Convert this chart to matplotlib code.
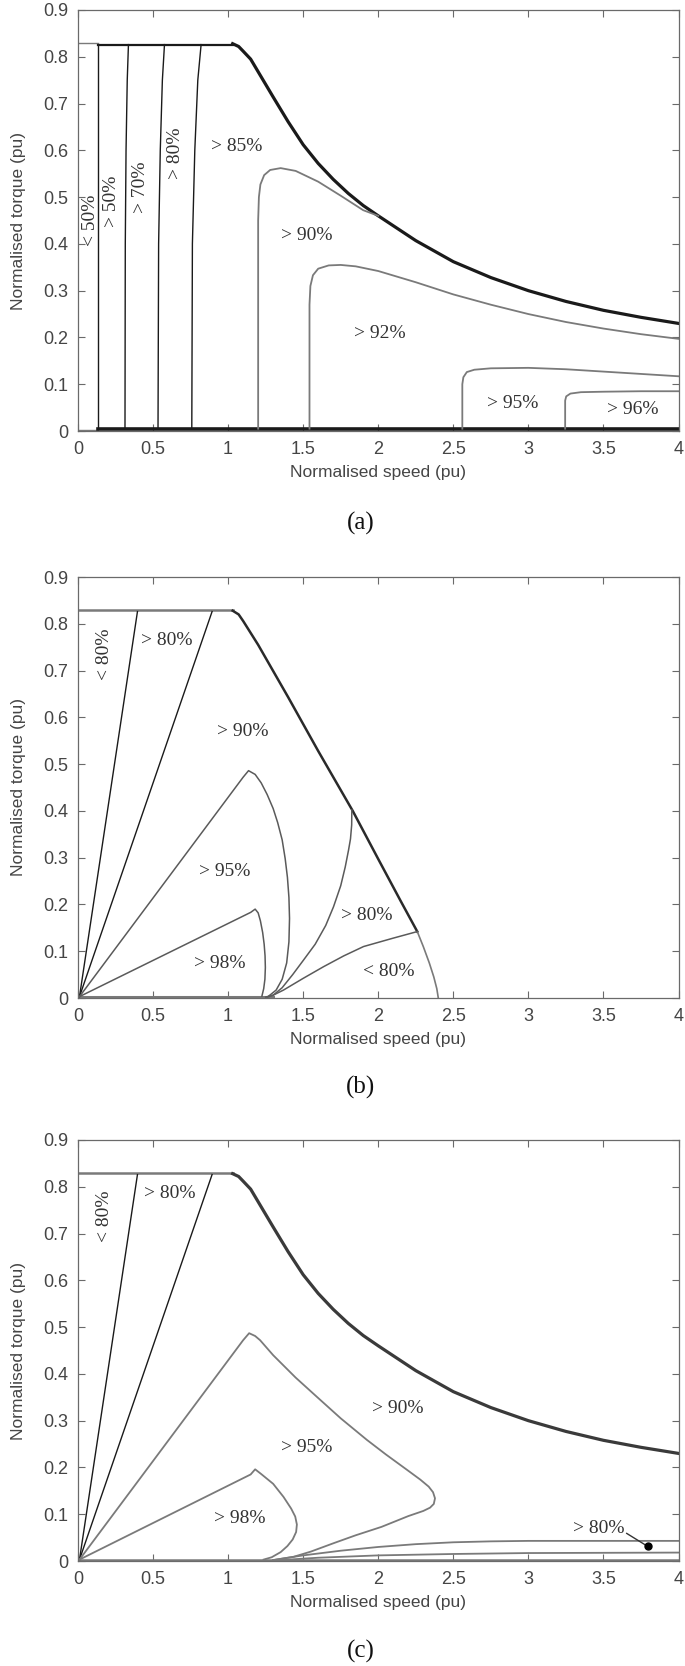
import matplotlib
matplotlib.use("Agg")
import matplotlib.pyplot as plt

# ---- shared torque-speed envelope (field weakening, constant power) ----
env_fw_x = [0, 1.03, 1.07, 1.1, 1.15, 1.2, 1.3, 1.4, 1.5, 1.6, 1.7, 1.8, 1.9, 2.0, 2.25, 2.5, 2.75, 3.0, 3.25, 3.5, 3.75, 4.0]
env_fw_y = [0.828, 0.828, 0.822, 0.812, 0.795, 0.768, 0.714, 0.661, 0.612, 0.572, 0.538, 0.508, 0.482, 0.46, 0.407, 0.362, 0.328, 0.3, 0.277, 0.258, 0.243, 0.23]

# ---- (a) ----
a_c50_x = [0.13, 0.13]
a_c50_y = [0.005, 0.826]
a_c70_x = [0.313, 0.315, 0.32, 0.328, 0.336]
a_c80_x = [0.533, 0.537, 0.548, 0.562, 0.576]
a_c85_x = [0.758, 0.762, 0.778, 0.798, 0.82]
a_cv_y = [0.005, 0.4, 0.6, 0.75, 0.826]
a_c90_x = [1.2, 1.2, 1.205, 1.215, 1.24, 1.28, 1.35, 1.45, 1.6, 1.75, 1.9, 2.0]
a_c90_y = [0.005, 0.45, 0.5, 0.527, 0.547, 0.558, 0.562, 0.556, 0.533, 0.503, 0.472, 0.46]
a_c92_x = [1.542, 1.542, 1.548, 1.565, 1.6, 1.67, 1.75, 1.85, 2.0, 2.25, 2.5, 2.75, 3.0, 3.25, 3.5, 3.75, 4.0]
a_c92_y = [0.005, 0.27, 0.31, 0.333, 0.347, 0.354, 0.355, 0.352, 0.342, 0.318, 0.292, 0.27, 0.25, 0.233, 0.219, 0.207, 0.197]
a_c95_x = [2.56, 2.56, 2.567, 2.59, 2.64, 2.75, 3.0, 3.25, 3.5, 3.75, 4.0]
a_c95_y = [0.005, 0.1, 0.115, 0.126, 0.131, 0.134, 0.135, 0.132, 0.127, 0.122, 0.117]
a_c96_x = [3.245, 3.245, 3.252, 3.28, 3.35, 3.5, 3.75, 4.0]
a_c96_y = [0.005, 0.065, 0.074, 0.08, 0.083, 0.084, 0.085, 0.085]
a_labels = ["< 50%", "> 50%", "> 70%", "> 80%", "> 85%", "> 90%", "> 92%", "> 95%", "> 96%"]
a_lab_x = [0.08, 0.225, 0.413, 0.647, 1.06, 1.527, 2.01, 2.897, 3.693]
a_lab_y = [0.451, 0.49, 0.522, 0.594, 0.609, 0.419, 0.209, 0.058, 0.046]
a_lab_rot = [90, 90, 90, 90, 0, 0, 0, 0, 0]

# ---- (b) ----
b_env_x = [0, 1.03, 1.07, 1.1, 1.2, 1.4, 1.6, 1.83, 2.0, 2.15, 2.26]
b_env_y = [0.828, 0.828, 0.82, 0.806, 0.755, 0.643, 0.528, 0.4, 0.297, 0.207, 0.142]
b_arc_x = [2.26, 2.3, 2.34, 2.37, 2.39, 2.4]
b_arc_y = [0.142, 0.11, 0.075, 0.045, 0.02, 0.0]
ray1_x = [0.01, 0.396]
ray2_x = [0.01, 0.893]
ray_y = [0.003, 0.826]
b_c95_x = [0.01, 1.1, 1.136, 1.18, 1.22, 1.26, 1.3, 1.33, 1.36, 1.38, 1.395, 1.405, 1.409, 1.405, 1.39, 1.36, 1.32, 1.27]
b_c95_y = [0.003, 0.472, 0.486, 0.478, 0.46, 0.435, 0.405, 0.375, 0.338, 0.298, 0.258, 0.215, 0.17, 0.12, 0.075, 0.04, 0.017, 0.004]
b_c98_x = [0.01, 1.15, 1.18, 1.2, 1.215, 1.23, 1.24, 1.246, 1.248, 1.245, 1.237, 1.225]
b_c98_y = [0.003, 0.183, 0.19, 0.182, 0.165, 0.14, 0.115, 0.09, 0.065, 0.04, 0.02, 0.004]
b_c80u_x = [1.824, 1.823, 1.815, 1.802, 1.78, 1.75, 1.702, 1.65, 1.58, 1.502, 1.43, 1.36, 1.3, 1.26]
b_c80u_y = [0.402, 0.37, 0.34, 0.316, 0.28, 0.24, 0.195, 0.155, 0.115, 0.081, 0.05, 0.022, 0.006, 0.002]
b_c80l_x = [2.26, 2.1, 1.902, 1.77, 1.636, 1.5, 1.369, 1.3, 1.25]
b_c80l_y = [0.142, 0.128, 0.11, 0.09, 0.067, 0.042, 0.017, 0.006, 0.002]
b_labels = ["< 80%", "> 80%", "> 90%", "> 95%", "> 98%", "> 80%", "< 80%"]
b_lab_x = [0.176, 0.591, 1.097, 0.977, 0.942, 1.922, 2.069]
b_lab_y = [0.735, 0.764, 0.57, 0.271, 0.074, 0.177, 0.057]
b_lab_rot = [90, 0, 0, 0, 0, 0, 0]

# ---- (c) ----
c_c95_x = [0.01, 1.1, 1.14, 1.18, 1.213, 1.3, 1.45, 1.591, 1.75, 1.924, 2.05, 2.191, 2.28, 2.336, 2.365, 2.378, 2.37, 2.345, 2.3, 2.2, 2.022, 1.85, 1.702, 1.55, 1.436, 1.3]
c_c95_y = [0.003, 0.472, 0.487, 0.481, 0.472, 0.44, 0.392, 0.351, 0.305, 0.259, 0.228, 0.195, 0.174, 0.159, 0.147, 0.134, 0.122, 0.114, 0.107, 0.096, 0.073, 0.055, 0.038, 0.02, 0.009, 0.002]
c_c98_x = [0.01, 1.15, 1.18, 1.22, 1.3, 1.369, 1.42, 1.447, 1.458, 1.453, 1.43, 1.395, 1.35, 1.29, 1.236]
c_c98_y = [0.003, 0.185, 0.196, 0.186, 0.165, 0.137, 0.112, 0.095, 0.078, 0.062, 0.046, 0.032, 0.019, 0.008, 0.003]
c_b1_x = [1.3, 1.5, 1.75, 2.0, 2.25, 2.5, 2.75, 3.0, 4.0]
c_b1_y = [0.002, 0.012, 0.022, 0.03, 0.036, 0.04, 0.042, 0.043, 0.043]
c_b2_x = [1.35, 1.6, 2.0, 2.5, 3.0, 4.0]
c_b2_y = [0.002, 0.007, 0.012, 0.015, 0.017, 0.018]
c_labels = ["< 80%", "> 80%", "> 90%", "> 95%", "> 98%", "> 80%"]
c_lab_x = [0.176, 0.614, 2.13, 1.523, 1.08, 3.469]
c_lab_y = [0.738, 0.785, 0.326, 0.243, 0.09, 0.07]
c_lab_rot = [90, 0, 0, 0, 0, 0]
c_leader_x = [3.655, 3.796]
c_leader_y = [0.059, 0.031]

x_ticks = [0, 0.5, 1, 1.5, 2, 2.5, 3, 3.5, 4]
x_ticklabels = ["0", "0.5", "1", "1.5", "2", "2.5", "3", "3.5", "4"]
y_ticks = [0, 0.1, 0.2, 0.3, 0.4, 0.5, 0.6, 0.7, 0.8, 0.9]
y_ticklabels = ["0", "0.1", "0.2", "0.3", "0.4", "0.5", "0.6", "0.7", "0.8", "0.9"]
captions = ["(a)", "(b)", "(c)"]

SANS = ["Liberation Sans", "DejaVu Sans"]
SERIF = ["Liberation Serif", "DejaVu Serif"]
DARK = "#1a1a1a"
GREY = "#7a7a7a"
TXT = "#333333"

fig = plt.figure(figsize=(6.85, 16.66), dpi=100)
left, width, height = 78 / 685, 600.5 / 685, 421 / 1666
bottoms = [1 - 431 / 1666, 1 - 998 / 1666, 1 - 1561 / 1666]
axes = [fig.add_axes([left, b, width, height]) for b in bottoms]


def style_axes(ax):
    ax.set_xlim(0, 4)
    ax.set_ylim(0, 0.9)
    ax.set_xticks(x_ticks)
    ax.set_xticklabels(x_ticklabels)
    ax.set_yticks(y_ticks)
    ax.set_yticklabels(y_ticklabels)
    ax.tick_params(direction="in", length=5, width=0.8, top=True, right=True,
                   colors="#6a6a6a", labelcolor="#454545", labelsize=13, pad=7)
    for lab in ax.get_xticklabels() + ax.get_yticklabels():
        lab.set_family(SANS)
    for s in ax.spines.values():
        s.set_color("#6a6a6a")
        s.set_linewidth(0.9)
    ax.set_xlabel("Normalised speed (pu)", family=SANS, fontsize=12.5, color="#454545", labelpad=5)
    ax.set_ylabel("Normalised torque (pu)", family=SANS, fontsize=12.5, color="#454545", labelpad=12)


def put_labels(ax, labels, xs, ys, rots):
    for t, x, y, r in zip(labels, xs, ys, rots):
        ax.text(x, y, t, rotation=r, ha="center", va="center", family=SERIF,
                fontsize=14, color=TXT)


# (a)
ax = axes[0]
ax.plot([0, 0.13], [0.83, 0.83], color=GREY, lw=1.0)
ax.plot([0, 0.13], [0.002, 0.002], color=GREY, lw=1.0)
ax.plot(env_fw_x[1:], env_fw_y[1:], color=DARK, lw=2.3)
ax.plot([0.13, env_fw_x[1]], [0.826, 0.826], color=DARK, lw=1.6)
ax.plot([0.13, 4.0], [0.004, 0.004], color=DARK, lw=2.6)
ax.plot(a_c50_x, a_c50_y, color=DARK, lw=1.0)
for xs in (a_c70_x, a_c80_x, a_c85_x):
    ax.plot(xs, a_cv_y, color=DARK, lw=1.0)
for xs, ys in ((a_c90_x, a_c90_y), (a_c92_x, a_c92_y), (a_c95_x, a_c95_y), (a_c96_x, a_c96_y)):
    ax.plot(xs, ys, color=GREY, lw=1.3)
put_labels(ax, a_labels, a_lab_x, a_lab_y, a_lab_rot)

# (b)
ax = axes[1]
ax.plot(env_fw_x[:2], [0.83, 0.83], color=GREY, lw=1.8)
ax.plot(b_env_x[1:], b_env_y[1:], color="#2a2a2a", lw=1.8)
ax.plot(b_arc_x, b_arc_y, color=GREY, lw=1.2)
ax.plot([0, 1.3], [0.003, 0.003], color=GREY, lw=2.2)
ax.plot(ray1_x, ray_y, color=DARK, lw=1.0)
ax.plot(ray2_x, ray_y, color=DARK, lw=1.0)
for xs, ys in ((b_c95_x, b_c95_y), (b_c98_x, b_c98_y), (b_c80u_x, b_c80u_y), (b_c80l_x, b_c80l_y)):
    ax.plot(xs, ys, color="#5a5a5a", lw=1.1)
put_labels(ax, b_labels, b_lab_x, b_lab_y, b_lab_rot)

# (c)
ax = axes[2]
ax.plot(env_fw_x[:2], [0.83, 0.83], color=GREY, lw=1.8)
ax.plot(env_fw_x[1:], env_fw_y[1:], color="#3a3a3a", lw=2.3)
ax.plot([0, 4.0], [0.003, 0.003], color=GREY, lw=1.8)
ax.plot(ray1_x, ray_y, color=DARK, lw=1.0)
ax.plot(ray2_x, ray_y, color=DARK, lw=1.0)
for xs, ys in ((c_c95_x, c_c95_y), (c_c98_x, c_c98_y), (c_b1_x, c_b1_y), (c_b2_x, c_b2_y)):
    ax.plot(xs, ys, color=GREY, lw=1.3)
put_labels(ax, c_labels, c_lab_x, c_lab_y, c_lab_rot)
ax.plot(c_leader_x, c_leader_y, color="#333333", lw=1.0)
ax.plot(c_leader_x[-1:], c_leader_y[-1:], "o", color="black", ms=5)

for ax in axes:
    style_axes(ax)

cap_y = [0.686, 0.3475, 0.009]
for cap, y in zip(captions, cap_y):
    fig.text(0.527, y, cap, ha="center", va="center", family=SERIF, fontsize=18, color="#111111")

fig.savefig("out.png", dpi=100)
